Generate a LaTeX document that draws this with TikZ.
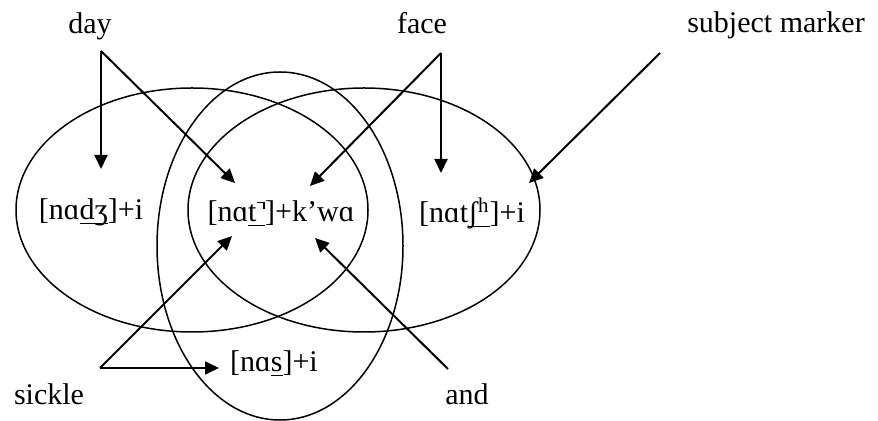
\documentclass[tikz,border=0pt]{standalone}
\usepackage{fontspec}
\setmainfont{Liberation Serif}
\usetikzlibrary{arrows.meta}
\newcommand\ulx[1]{\setbox0\hbox{#1}\rlap{\rule[-0.15em]{\wd0}{0.035em}}\box0}
\newcommand\unrl{\kern0.03em\raisebox{0.62em}{\rule{0.24em}{0.04em}}\kern-0.04em\raisebox{0.42em}{\rule{0.04em}{0.24em}}\kern0.02em}
\begin{document}
\begin{tikzpicture}[x=0.5pt,y=-0.5pt,
  lbl/.style={font=\fontsize{15}{18}\selectfont, inner sep=0pt, anchor=base},
  ell/.style={draw, line width=0.75pt},
  arr/.style={line width=1pt, -{Triangle[length=7pt,width=6.5pt]}}]
\useasboundingbox (0,0) rectangle (878,421);
% ellipses
\draw[ell] (192,210) ellipse [x radius=88pt, y radius=61pt];
\draw[ell] (364,210) ellipse [x radius=88pt, y radius=61pt];
\draw[ell] (280,246) ellipse [x radius=61.5pt, y radius=87pt];
% labels
\node[lbl] (day) at (90,34) {day};
\node[lbl] (face) at (422,34) {face};
\node[lbl] (subj) at (776,33) {subject marker};
\node[lbl] (sickle) at (49,405) {sickle};
\node[lbl] (and) at (467,405) {and};
\node[lbl] (nadz) at (91,220) {[nɑ\ulx{dʒ}]+i};
\node[lbl] (natk) at (281,222) {[nɑ\ulx{t\unrl}]+k’wɑ};
\node[lbl] (natsh) at (472,223) {[nɑt\ulx{ʃ\textsuperscript{h}}]+i};
\node[lbl] (nas) at (274,372) {[nɑ\ulx{s}]+i};
% connector ends
\coordinate (dayS) at (101,51);
\coordinate (d1) at (101,169);
\coordinate (d2) at (235,183);
\coordinate (faceS) at (441,53);
\coordinate (f1) at (441,173);
\coordinate (f2) at (310,186);
\coordinate (smS) at (660,53);
\coordinate (sm1) at (529,183);
\coordinate (sickS) at (100,368);
\coordinate (s1) at (219,368);
\coordinate (s2) at (232,236);
\coordinate (andS) at (448,369);
\coordinate (a1) at (315,238);
% connectors
\draw[arr] (dayS) -- (d1);
\draw[arr] (dayS) -- (d2);
\draw[arr] (faceS) -- (f1);
\draw[arr] (faceS) -- (f2);
\draw[arr] (smS) -- (sm1);
\draw[arr] (sickS) -- (s1);
\draw[arr] (sickS) -- (s2);
\draw[arr] (andS) -- (a1);
\end{tikzpicture}
\end{document}
